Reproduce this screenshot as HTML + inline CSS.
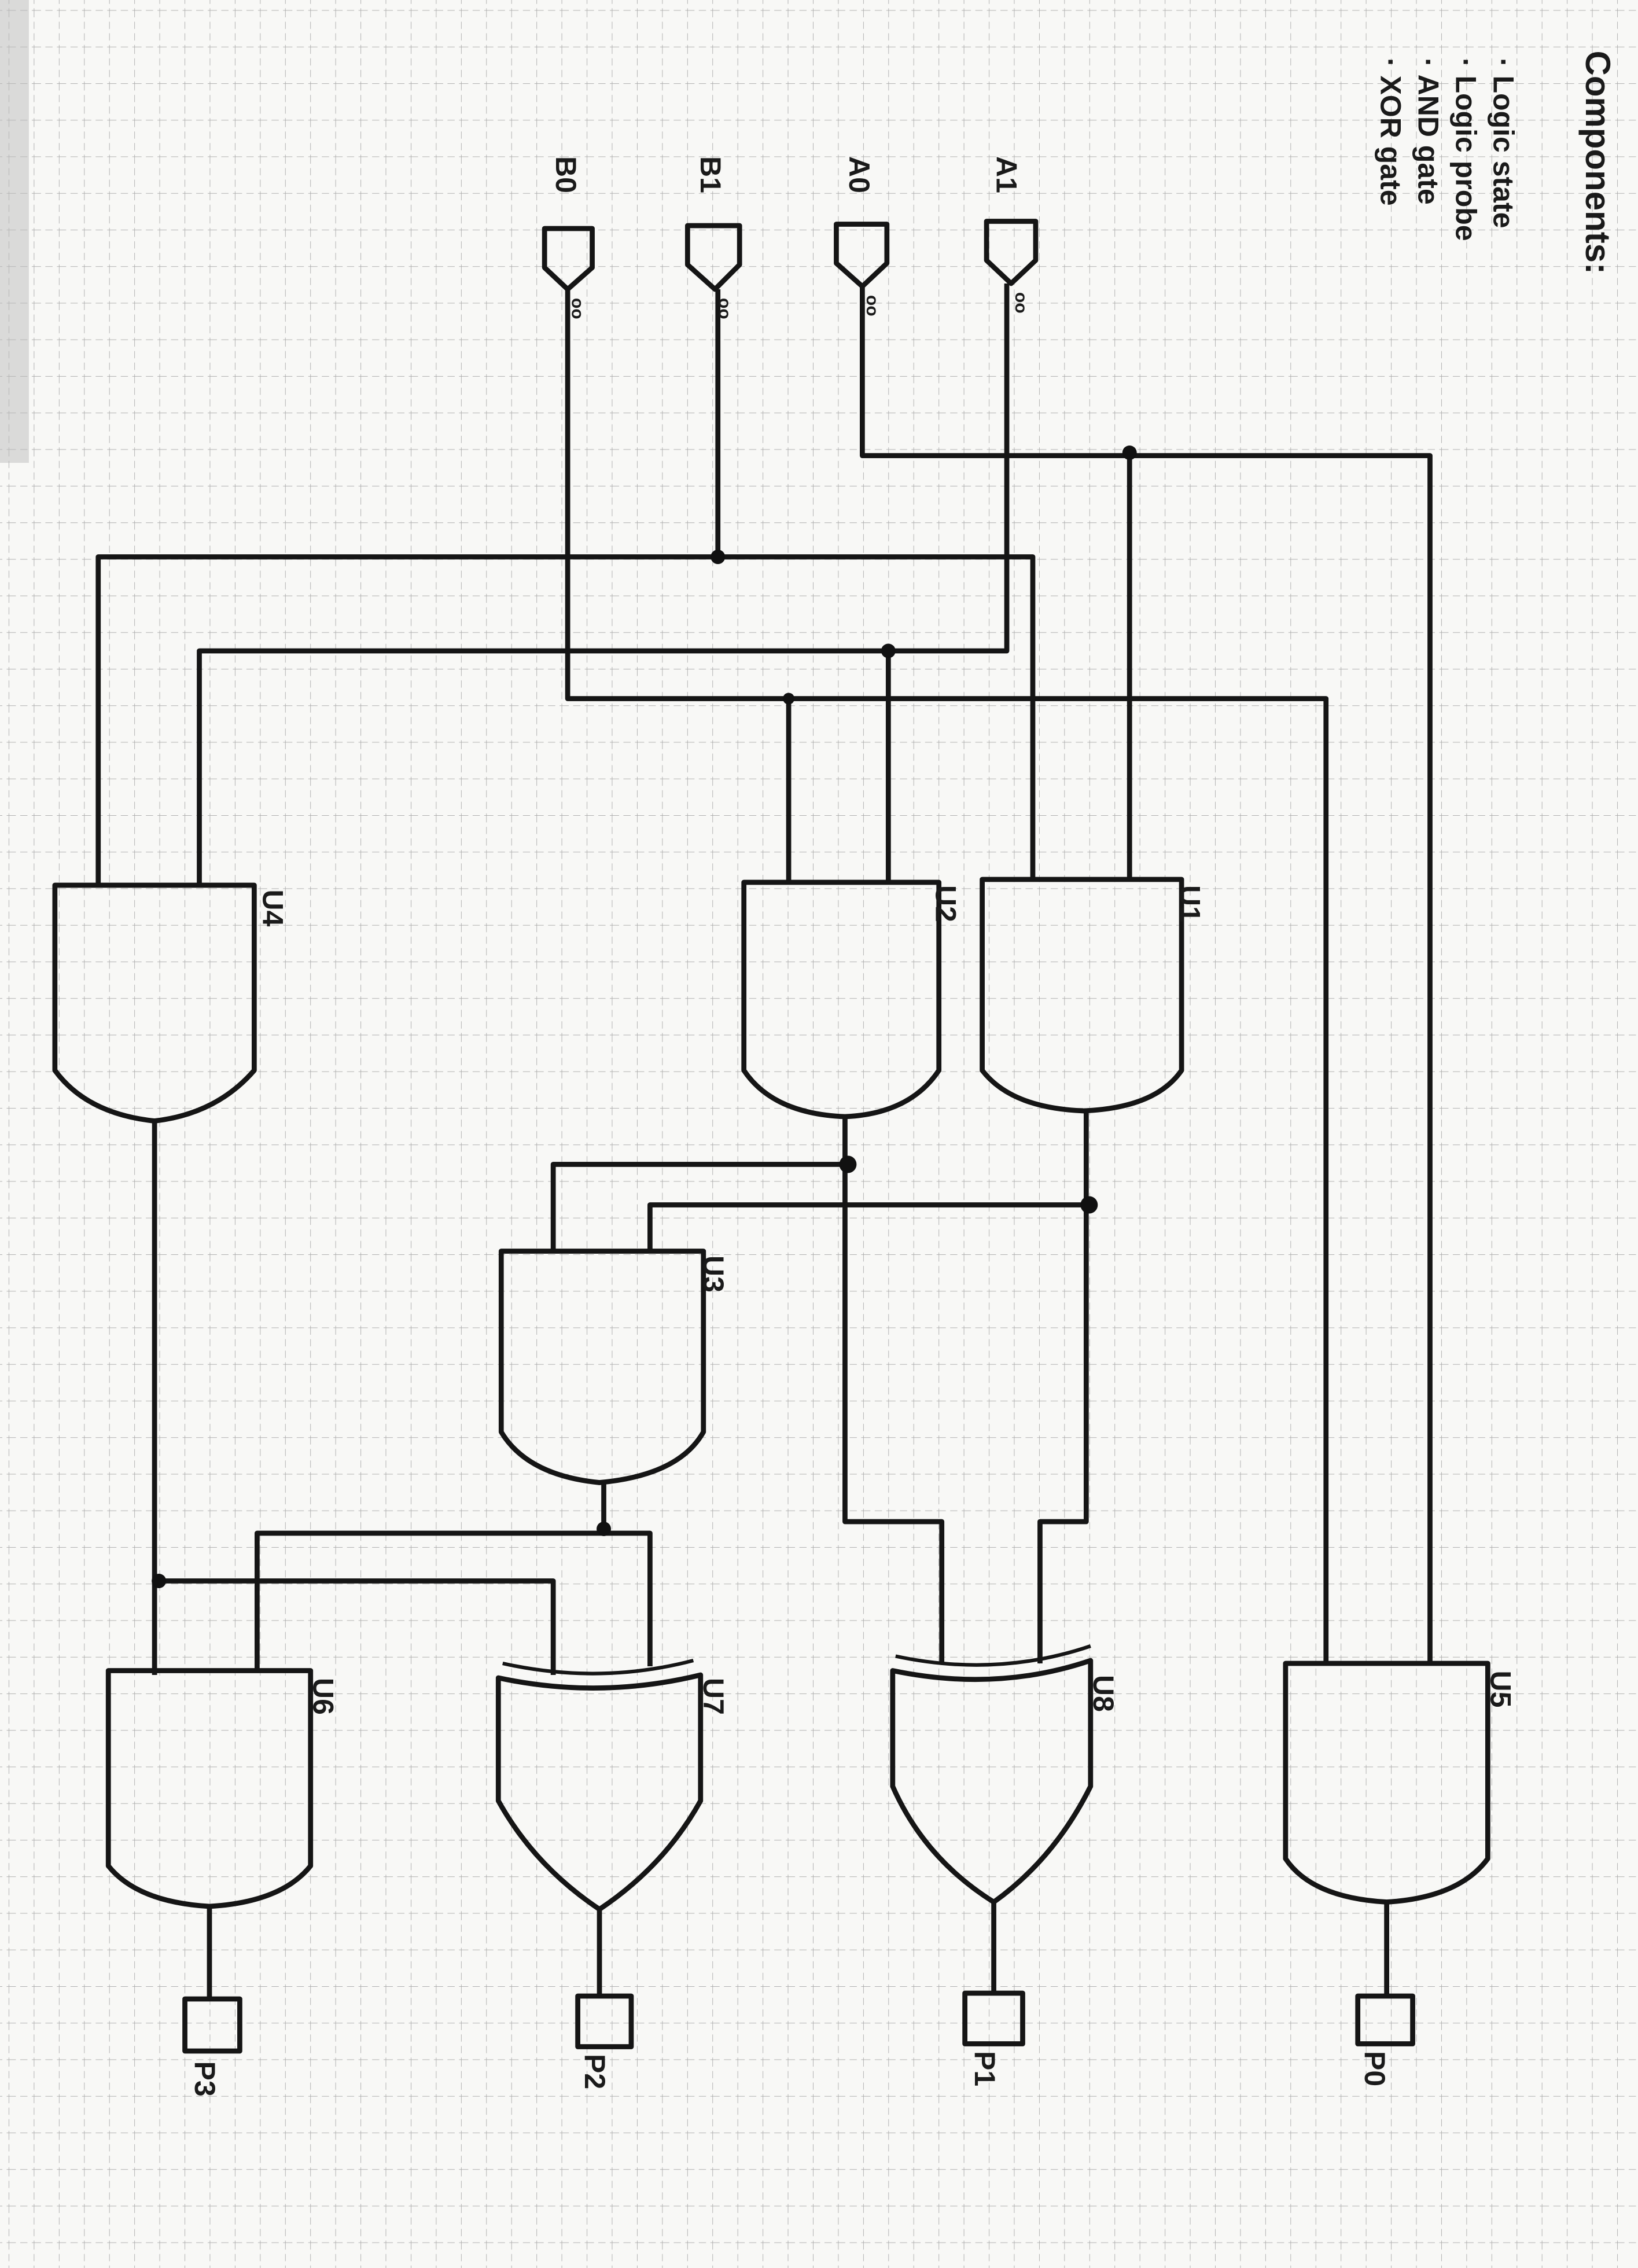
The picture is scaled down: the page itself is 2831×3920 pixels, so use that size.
<!DOCTYPE html>
<html><head><meta charset="utf-8"><style>
html,body{margin:0;padding:0;background:#f8f8f6}
svg{display:block}
text{font-family:"Liberation Sans",sans-serif;fill:#1a1a1a}
</style></head><body>
<svg width="2831" height="3920" viewBox="0 0 1134 1568" preserveAspectRatio="none" xmlns="http://www.w3.org/2000/svg">
<defs>
<pattern id="g" width="17.4" height="25.3" patternUnits="userSpaceOnUse" x="6" y="7">
<path d="M0 0V25.3" stroke="#a8a8a8" stroke-width="0.7" stroke-dasharray="5 3"/>
<path d="M0 0H17.4" stroke="#a8a8a8" stroke-width="0.7" stroke-dasharray="5 3"/>
</pattern>
</defs>
<rect width="1134" height="1568" fill="#f8f8f6"/>
<rect width="1134" height="1568" fill="url(#g)"/>
<rect x="0" y="0" width="20" height="320" fill="#bbb" opacity="0.5"/>

<g transform="rotate(90)" font-weight="bold">
<text x="35" y="-1098" font-size="24">Components:</text>
<text x="40" y="-1034" font-size="20">· Logic state</text>
<text x="40" y="-1008" font-size="20">· Logic probe</text>
<text x="40" y="-982" font-size="20">· AND gate</text>
<text x="40" y="-956" font-size="20">· XOR gate</text>
</g>

<g fill="none" stroke="#151515" stroke-width="3.5" stroke-linejoin="round">
<g><path d="M377 158H410V185L393 200L377 185Z"/></g>
<g><path d="M476 156H512V183L495 200L476 183Z"/></g>
<g><path d="M579 155H614V182L597 198L579 182Z"/></g>
<g><path d="M683 153H717V180L700 196L683 180Z"/></g>

<path d="M393 200V483H918V1150M546 483V610"/>
<path d="M497 200V385M68 612V385H715V608"/>
<path d="M597 198V315H990V1150M782 312V608"/>
<path d="M697 196V450H138V612M615 450V610"/>
<path d="M585 772V1052H652V1150M383 865V805H585"/>
<path d="M752 768V1052H720V1150M450 865V833H752"/>
<path d="M418 1025V1057M178 1155V1060H450V1152"/>
<path d="M107 775V1158M107 1093H383V1158"/>

<path d="M38 612H176V740Q150 770 107 775Q60 770 38 740Z"/>
<path d="M515 610H650V740Q630 770 585 772Q535 770 515 740Z"/>
<path d="M680 608H818V740Q800 766 750 768Q700 766 680 740Z"/>
<path d="M347 865H487V990Q470 1020 415 1025Q365 1020 347 990Z"/>
<path d="M75 1155H215V1290Q195 1315 145 1318Q95 1315 75 1290Z"/>
<path d="M890 1150H1030V1285Q1010 1312 960 1315Q908 1312 890 1285Z"/>

<path d="M345 1160Q415 1175 485 1158V1245Q460 1290 415 1320Q370 1290 345 1245Z"/>
<path d="M348 1150Q415 1165 480 1148" stroke-width="2.5"/>
<path d="M618 1155Q690 1170 755 1148V1235Q730 1285 688 1315Q640 1285 618 1235Z"/>
<path d="M620 1145Q690 1160 755 1138" stroke-width="2.5"/>

<path d="M145 1318V1382M415 1320V1380M688 1315V1378M960 1315V1380"/>
<rect x="128" y="1382" width="38" height="36"/>
<rect x="400" y="1380" width="37" height="35"/>
<rect x="668" y="1378" width="40" height="35"/>
<rect x="940" y="1380" width="38" height="33"/>
</g>

<g fill="#111">
<circle cx="497" cy="385" r="5"/><circle cx="782" cy="313" r="5"/><circle cx="615" cy="450" r="5"/>
<circle cx="546" cy="483" r="4"/><circle cx="587" cy="805" r="6"/><circle cx="754" cy="833" r="6"/>
<circle cx="418" cy="1057" r="5"/><circle cx="110" cy="1093" r="5"/>
</g>

<g font-size="20" font-weight="bold">
<g transform="translate(385,108) rotate(90)"><text>B0</text></g>
<g transform="translate(485,108) rotate(90)"><text>B1</text></g>
<g transform="translate(588,108) rotate(90)"><text>A0</text></g>
<g transform="translate(690,108) rotate(90)"><text>A1</text></g>
<g font-size="12"><g transform="translate(396,206) rotate(90)"><text>oo</text></g>
<g transform="translate(498,206) rotate(90)"><text>oo</text></g>
<g transform="translate(600,204) rotate(90)"><text>oo</text></g>
<g transform="translate(703,202) rotate(90)"><text>oo</text></g></g>
<g transform="translate(182,615) rotate(90)"><text>U4</text></g>
<g transform="translate(648,612) rotate(90)"><text>U2</text></g>
<g transform="translate(817,612) rotate(90)"><text>U1</text></g>
<g transform="translate(487,868) rotate(90)"><text>U3</text></g>
<g transform="translate(217,1160) rotate(90)"><text>U6</text></g>
<g transform="translate(487,1160) rotate(90)"><text>U7</text></g>
<g transform="translate(757,1158) rotate(90)"><text>U8</text></g>
<g transform="translate(1032,1155) rotate(90)"><text>U5</text></g>
<g transform="translate(135,1425) rotate(90)"><text>P3</text></g>
<g transform="translate(405,1420) rotate(90)"><text>P2</text></g>
<g transform="translate(675,1418) rotate(90)"><text>P1</text></g>
<g transform="translate(945,1418) rotate(90)"><text>P0</text></g>
</g>
</svg>
</body></html>
